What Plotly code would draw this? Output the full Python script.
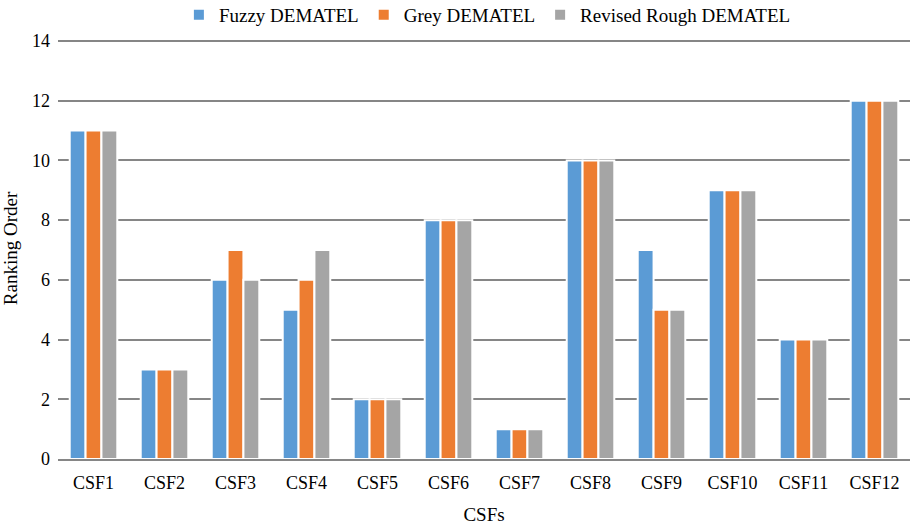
import plotly.graph_objects as go

categories = ["CSF1", "CSF2", "CSF3", "CSF4", "CSF5", "CSF6", "CSF7", "CSF8", "CSF9", "CSF10", "CSF11", "CSF12"]
fuzzy = [11, 3, 6, 5, 2, 8, 1, 10, 7, 9, 4, 12]
grey = [11, 3, 7, 6, 2, 8, 1, 10, 5, 9, 4, 12]
rough = [11, 3, 6, 7, 2, 8, 1, 10, 5, 9, 4, 12]
y_ticks = [0, 2, 4, 6, 8, 10, 12, 14]

font = "Liberation Serif"

fig = go.Figure()
for name, vals, color in [("Fuzzy DEMATEL", fuzzy, "#5b9bd5"),
                          ("Grey DEMATEL", grey, "#ed7d31"),
                          ("Revised Rough DEMATEL", rough, "#a5a5a5")]:
    fig.add_trace(go.Bar(x=categories, y=vals, name=name,
                         marker=dict(color=color, line=dict(color="white", width=2))))

fig.update_layout(
    width=911, height=526,
    barmode="group", bargap=0.33, bargroupgap=0.0,
    plot_bgcolor="white", paper_bgcolor="white",
    font=dict(family=font, size=18, color="#000000"),
    margin=dict(l=58, r=1, t=38, b=67, autoexpand=False),
    legend=dict(orientation="h", x=0.535, xanchor="center", xref="container",
                y=1 - 15 / 526, yanchor="middle", yref="container",
                font=dict(family=font, size=19), itemwidth=30,
                traceorder="normal", itemclick=False),
    xaxis=dict(title=dict(text="CSFs", font=dict(family=font, size=19), standoff=16),
               showgrid=False, showline=True, linecolor="#868686", linewidth=2,
               tickfont=dict(family=font, size=18), ticks="", ticklabelstandoff=6),
    yaxis=dict(title=dict(text="Ranking Order", font=dict(family=font, size=19), standoff=12),
               range=[0, 14.1], tickvals=y_ticks, showgrid=True, gridcolor="#868686",
               gridwidth=2, zeroline=False, tickfont=dict(family=font, size=18),
               ticks="", ticklabelstandoff=7),
)
fig.write_html("out.html", config={"displayModeBar": False},
               post_script="document.body.style.margin='0px';document.body.style.overflow='hidden';")
